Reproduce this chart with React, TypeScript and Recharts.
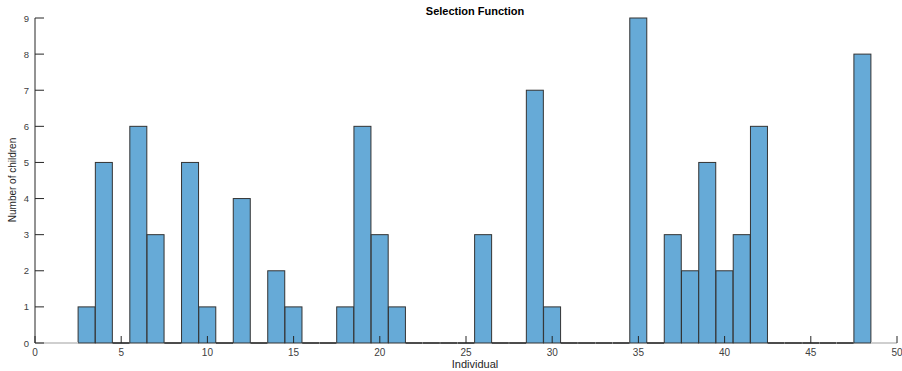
import React from 'react';
import { BarChart, Bar, XAxis, YAxis, ReferenceLine } from 'recharts';

const individuals = [3, 4, 5, 6, 7, 8, 9, 10, 11, 12, 13, 14, 15, 16, 17, 18, 19, 20, 21, 22, 23, 24, 25, 26, 27, 28, 29, 30, 31, 32, 33, 34, 35, 36, 37, 38, 39, 40, 41, 42, 43, 44, 45, 46, 47, 48];
const children = [1, 5, 0, 6, 3, 0, 5, 1, 0, 4, 0, 2, 1, 0, 0, 1, 6, 3, 1, 0, 0, 0, 0, 3, 0, 0, 7, 1, 0, 0, 0, 0, 9, 0, 3, 2, 5, 2, 3, 6, 0, 0, 0, 0, 0, 8];
const xTicks = [0, 5, 10, 15, 20, 25, 30, 35, 40, 45, 50];
const yTicks = [0, 1, 2, 3, 4, 5, 6, 7, 8, 9];

const title = 'Selection Function';
const xLabel = 'Individual';
const yLabel = 'Number of children';

const data = individuals.map((x, i) => ({ x, n: children[i] }));
const firstEdge = individuals[0] - 0.5;
const lastEdge = individuals[individuals.length - 1] + 0.5;

const FONT = '"Liberation Sans", Arial, Helvetica, sans-serif';
const W = 902;
const H = 371;
const M = { top: 18, right: 5, bottom: 0, left: 0 };
const Y_AXIS_W = 35;
const X_AXIS_H = 28;

const HistBar = (props: any) => {
  const { x, y, width, height, payload } = props;
  if (!payload || payload.n === 0 || !height) {
    const yy = M.top + (H - M.top - M.bottom - X_AXIS_H);
    return <line x1={x} x2={x + width} y1={yy} y2={yy} stroke="#111" strokeWidth={1.5} />;
  }
  return <rect x={x} y={y} width={width} height={height} fill="#66AAD7" stroke="#333" strokeWidth={1} />;
};

const XTick = (props: any) => {
  const { x, y, payload } = props;
  return (
    <g>
      <line x1={x} x2={x} y1={y} y2={y - 7} stroke="#262626" strokeWidth={1} />
      <text x={x} y={y + 13} textAnchor="middle" fontSize={10} fill="#404040" fontFamily={FONT}>
        {payload.value}
      </text>
    </g>
  );
};

const YTick = (props: any) => {
  const { x, y, payload } = props;
  return (
    <g>
      <line x1={x} x2={x + 9} y1={y} y2={y} stroke="#262626" strokeWidth={1} />
      <text x={x - 6} y={y + 3.5} textAnchor="end" fontSize={9.5} fill="#404040" fontFamily={FONT}>
        {payload.value}
      </text>
    </g>
  );
};

export default function App() {
  return (
    <div style={{ position: 'absolute', left: 0, top: 0, width: W, height: H, background: '#fff' }}>
      <BarChart width={W} height={H} data={data} margin={M} barCategoryGap={0} barGap={0}>
        <ReferenceLine
          segment={[{ x: 0, y: 0 }, { x: firstEdge, y: 0 }]}
          stroke="#cfcfcf"
          strokeWidth={2}
        />
        <ReferenceLine
          segment={[{ x: lastEdge, y: 0 }, { x: 50, y: 0 }]}
          stroke="#cfcfcf"
          strokeWidth={2}
        />
        <Bar dataKey="n" isAnimationActive={false} shape={<HistBar />} />
        <XAxis
          dataKey="x"
          type="number"
          domain={[0, 50]}
          ticks={xTicks}
          allowDataOverflow
          axisLine={false}
          tickLine={false}
          tickSize={0}
          tickMargin={0}
          height={X_AXIS_H}
          tick={<XTick />}
          interval={0}
        />
        <YAxis
          type="number"
          domain={[0, 9]}
          ticks={yTicks}
          axisLine={{ stroke: '#262626', strokeWidth: 1 }}
          tickLine={false}
          tickSize={0}
          tickMargin={0}
          width={Y_AXIS_W}
          tick={<YTick />}
          interval={0}
        />
      </BarChart>
      <svg width={W} height={H} style={{ position: 'absolute', left: 0, top: 0, pointerEvents: 'none' }}>
        <text x={475} y={15} textAnchor="middle" fontSize={11} fontWeight="bold" fill="#000" fontFamily={FONT}>
          {title}
        </text>
        <text x={475} y={368} textAnchor="middle" fontSize={11} fill="#262626" fontFamily={FONT}>
          {xLabel}
        </text>
        <text
          x={16}
          y={180}
          textAnchor="middle"
          fontSize={10}
          fill="#262626"
          fontFamily={FONT}
          transform="rotate(-90 16 180)"
        >
          {yLabel}
        </text>
      </svg>
    </div>
  );
}
